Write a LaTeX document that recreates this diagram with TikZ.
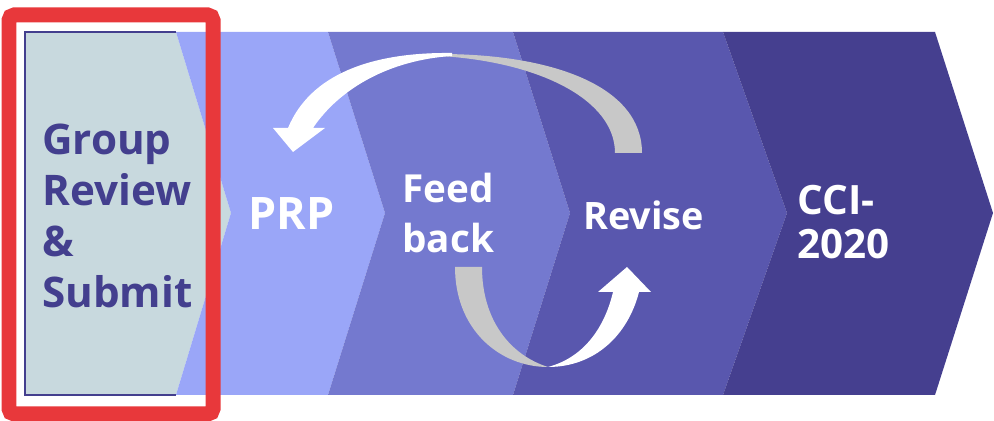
\documentclass[tikz,border=0pt]{standalone}
\usepackage{fontspec}
\setmainfont{Open Sans}
\usetikzlibrary{positioning,calc}

\definecolor{segA}{HTML}{C8D9DE}
\definecolor{segB}{HTML}{9AA6F8}
\definecolor{segC}{HTML}{7479CF}
\definecolor{segD}{HTML}{5957AE}
\definecolor{segE}{HTML}{453F8F}
\definecolor{darktext}{HTML}{433F8E}
\definecolor{ribbongrey}{HTML}{C8C8C8}
\definecolor{boxred}{HTML}{E8383B}

\begin{document}
\begin{tikzpicture}[x=0.02cm, y=-0.02cm,
    seg/.style={fill=#1, draw=none},
    lbl/.style={anchor=west, align=left, inner sep=0pt, text=white, font=\bfseries\fontsize{22}{28}\selectfont},
    backside/.style={fill=ribbongrey, draw=none},
    frontside/.style={fill=white, draw=none},
    redbox/.style={draw=boxred, line width=0.3cm, rounded corners=3pt}
]
    \useasboundingbox (0,0) rectangle (994,421);

    % Chevron band
    \fill[seg=segA] (25,32) -- (176,32) -- (231,213) -- (176,395) -- (25,395) -- cycle;
    \fill[seg=segB] (176,32) -- (328,32) -- (385,213) -- (328,395) -- (176,395) -- (231,213) -- cycle;
    \fill[seg=segC] (328,32) -- (513,32) -- (570,213) -- (513,395) -- (328,395) -- (385,213) -- cycle;
    \fill[seg=segD] (513,32) -- (723,32) -- (787,213) -- (723,395) -- (513,395) -- (570,213) -- cycle;
    \fill[seg=segE] (723,32) -- (935,32) -- (993,213) -- (935,395) -- (723,395) -- (787,213) -- cycle;
    \draw[darktext, line width=0.6pt] (176,32) -- (25,32) -- (25,395) -- (176,395);

    % Labels
    \node[lbl, text=darktext, font=\bfseries\fontsize{24}{29}\selectfont] (grp) at (42,216) {Group\\Review\\\&\\Submit};
    \node[lbl, font=\bfseries\fontsize{25.5}{30}\selectfont] (prp) at (248,214) {PRP};
    \node[lbl] (fb) at (402,213) {Feed\\back};
    \node[lbl, font=\bfseries\fontsize{21.5}{26}\selectfont] (rev) at (583,215) {Revise};
    \node[lbl, font=\bfseries\fontsize{23}{25}\selectfont] (cci) at (797,222) {CCI-\\2020};

    % Top ribbon: Revise back to PRP
    \fill[backside] (642,153) .. controls (642,85) and (550,54) .. (440,54)
        -- (440,56) .. controls (540,62) and (615,100) .. (615,153) -- cycle;
    \fill[frontside] (452,53) .. controls (370,52) and (310,75) .. (288,128)
        -- (273,128) -- (293,152) -- (325,128) -- (313,128)
        .. controls (340,88) and (390,60) .. (452,56) -- cycle;

    % Bottom ribbon: Feed back to Revise
    \fill[backside] (455,267) .. controls (455,330) and (500,367) .. (548,367)
        .. controls (510,355) and (482,320) .. (482,267) -- cycle;
    \fill[frontside] (548,367) .. controls (595,367) and (628,335) .. (639,292)
        -- (651,292) -- (627,267) -- (598,292) -- (613,292)
        .. controls (604,330) and (582,358) .. (548,367) -- cycle;

    % Highlight
    \draw[redbox] (9,15) rectangle (213,414);
\end{tikzpicture}
\end{document}
